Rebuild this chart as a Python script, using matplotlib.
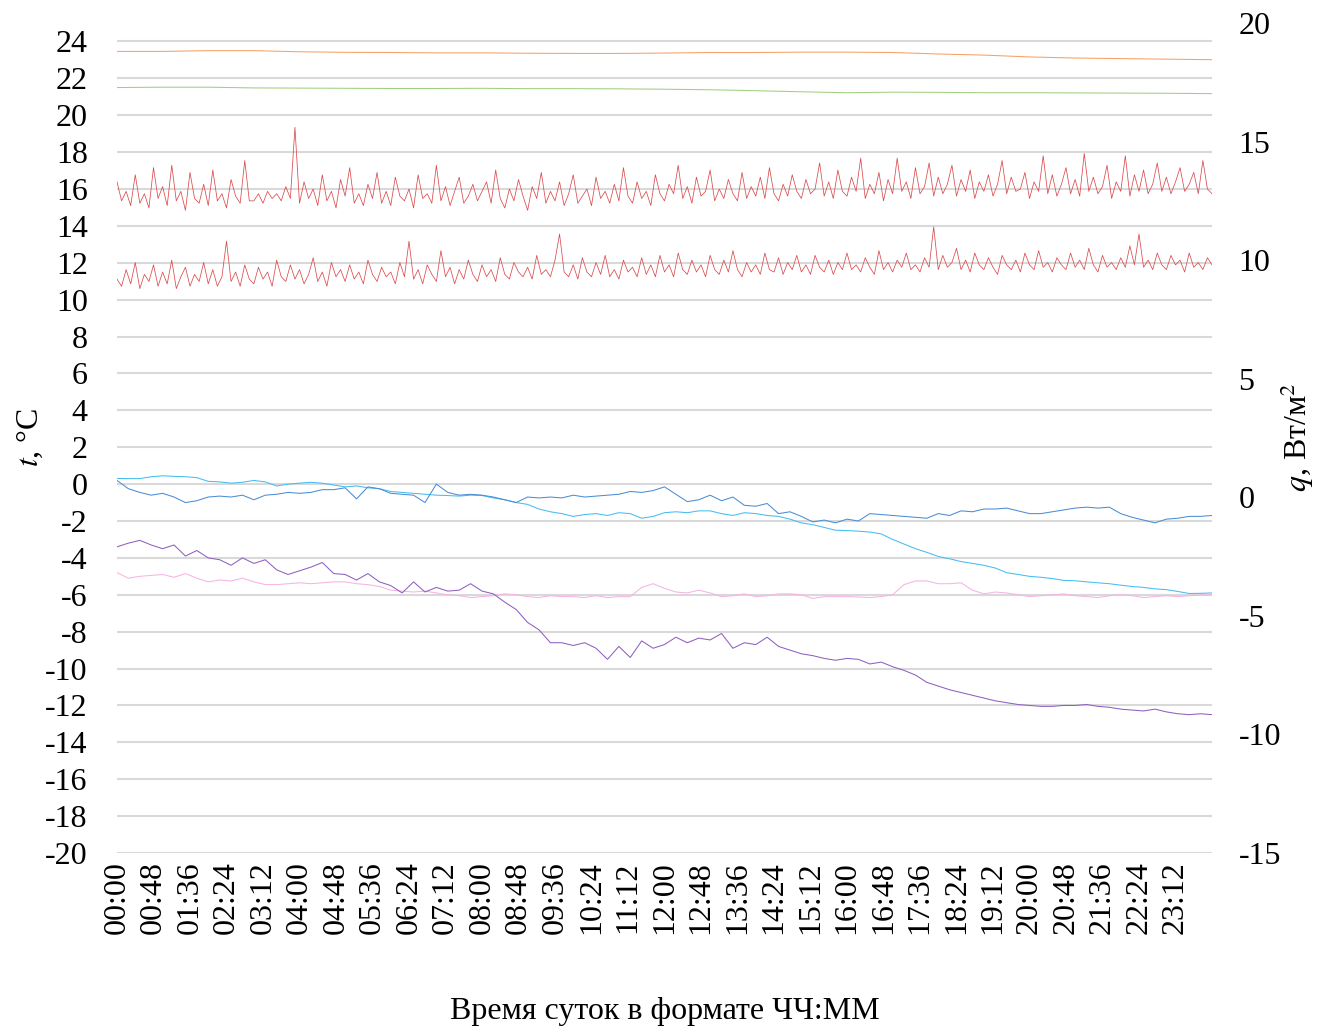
import numpy as np
import matplotlib
matplotlib.use("Agg")
import matplotlib.pyplot as plt

plt.rcParams["font.family"] = ["Liberation Serif", "DejaVu Serif"]
plt.rcParams["mathtext.fontset"] = "stix"
plt.rcParams["axes.unicode_minus"] = False

# ---- air / surface temperatures, hourly (°C) ----
t_orange = [23.46, 23.46, 23.5, 23.5, 23.44, 23.41, 23.4, 23.38, 23.38, 23.36,
            23.35, 23.35, 23.37, 23.4, 23.4, 23.42, 23.42, 23.4, 23.32, 23.26,
            23.16, 23.1, 23.07, 23.04, 23.01]
t_green = [21.5, 21.52, 21.52, 21.48, 21.47, 21.46, 21.45, 21.45, 21.46, 21.44,
           21.44, 21.43, 21.41, 21.38, 21.33, 21.27, 21.22, 21.25, 21.24, 21.22,
           21.22, 21.21, 21.2, 21.19, 21.17]

# ---- temperatures every 15 minutes (°C) ----
t_cyan = [0.31, 0.3, 0.3, 0.4, 0.45, 0.42, 0.4, 0.35, 0.15, 0.12,
          0.05, 0.1, 0.2, 0.12, -0.1, 0.0, 0.05, 0.1, 0.05, -0.05,
          -0.15, -0.1, -0.2, -0.25, -0.4, -0.45, -0.5, -0.55, -0.6, -0.62,
          -0.65, -0.6, -0.62, -0.75, -0.85, -1.0, -1.1, -1.35, -1.5, -1.6,
          -1.75, -1.65, -1.6, -1.7, -1.55, -1.6, -1.85, -1.75, -1.55, -1.5,
          -1.55, -1.45, -1.45, -1.6, -1.7, -1.55, -1.6, -1.7, -1.75, -1.9,
          -2.1, -2.2, -2.35, -2.5, -2.52, -2.55, -2.6, -2.7, -3.0, -3.25,
          -3.5, -3.7, -3.92, -4.05, -4.2, -4.3, -4.4, -4.55, -4.8, -4.9,
          -5.0, -5.05, -5.12, -5.22, -5.24, -5.3, -5.35, -5.4, -5.48, -5.55,
          -5.6, -5.68, -5.72, -5.82, -5.93, -5.92, -5.9]
t_blue = [0.2, -0.25, -0.45, -0.6, -0.5, -0.7, -1.0, -0.9, -0.7, -0.65,
          -0.7, -0.6, -0.85, -0.6, -0.55, -0.45, -0.5, -0.45, -0.3, -0.3,
          -0.2, -0.8, -0.15, -0.25, -0.5, -0.55, -0.6, -1.0, 0.0, -0.45,
          -0.6, -0.55, -0.6, -0.7, -0.85, -1.0, -0.7, -0.75, -0.7, -0.75,
          -0.6, -0.7, -0.65, -0.6, -0.55, -0.4, -0.45, -0.35, -0.15, -0.55,
          -0.95, -0.85, -0.6, -0.9, -0.7, -1.15, -1.2, -1.05, -1.6, -1.5,
          -1.75, -2.05, -1.95, -2.1, -1.9, -2.0, -1.6, -1.65, -1.7, -1.75,
          -1.8, -1.85, -1.6, -1.7, -1.45, -1.5, -1.35, -1.35, -1.3, -1.45,
          -1.6, -1.6, -1.5, -1.4, -1.3, -1.25, -1.3, -1.25, -1.6, -1.8,
          -1.95, -2.1, -1.9, -1.85, -1.75, -1.75, -1.7]
t_purple = [-3.4, -3.2, -3.05, -3.3, -3.5, -3.3, -3.9, -3.6, -4.0, -4.1,
            -4.4, -4.0, -4.3, -4.1, -4.65, -4.9, -4.7, -4.5, -4.25, -4.85,
            -4.9, -5.2, -4.85, -5.3, -5.5, -5.9, -5.3, -5.85, -5.6, -5.8,
            -5.75, -5.4, -5.8, -5.95, -6.4, -6.8, -7.5, -7.9, -8.6, -8.6,
            -8.75, -8.6, -8.9, -9.5, -8.8, -9.4, -8.5, -8.9, -8.7, -8.3,
            -8.6, -8.35, -8.45, -8.1, -8.9, -8.6, -8.7, -8.3, -8.8, -9.0,
            -9.2, -9.3, -9.45, -9.55, -9.45, -9.5, -9.75, -9.65, -9.9, -10.1,
            -10.35, -10.75, -10.95, -11.15, -11.3, -11.45, -11.6, -11.75, -11.85, -11.95,
            -12.0, -12.05, -12.05, -12.0, -12.0, -11.95, -12.05, -12.1, -12.2, -12.25,
            -12.3, -12.2, -12.35, -12.45, -12.5, -12.45, -12.5]
t_pink = [-4.8, -5.1, -5.0, -4.95, -4.9, -5.05, -4.85, -5.1, -5.3, -5.2,
          -5.25, -5.1, -5.3, -5.45, -5.45, -5.4, -5.35, -5.4, -5.35, -5.3,
          -5.3, -5.4, -5.45, -5.55, -5.75, -5.8, -5.85, -5.8, -5.9, -6.0,
          -6.05, -6.15, -6.1, -6.05, -5.95, -6.0, -6.1, -6.15, -6.05, -6.1,
          -6.1, -6.15, -6.05, -6.15, -6.1, -6.1, -5.6, -5.4, -5.65, -5.85,
          -5.9, -5.75, -5.9, -6.1, -6.05, -5.95, -6.1, -6.05, -5.95, -5.95,
          -6.0, -6.2, -6.1, -6.1, -6.1, -6.12, -6.15, -6.1, -6.0, -5.45,
          -5.25, -5.25, -5.4, -5.4, -5.35, -5.75, -5.95, -5.85, -5.9, -6.0,
          -6.1, -6.05, -6.0, -5.95, -6.05, -6.1, -6.15, -6.05, -6.0, -6.05,
          -6.15, -6.1, -6.05, -6.1, -6.05, -6.0, -6.0]

# ---- heat flux every 6 minutes (W/m2) ----
q_upper = [13.3, 12.5, 12.9, 12.3, 13.6, 12.4, 12.8, 12.2, 13.9, 12.6,
           13.1, 12.3, 14.0, 12.5, 12.9, 12.1, 13.7, 12.6, 12.4, 13.2,
           12.3, 13.8, 12.5, 12.8, 12.2, 13.4, 12.7, 12.4, 14.2, 12.5,
           12.5, 12.8, 12.4, 12.9, 12.6, 12.8, 12.5, 13.1, 12.6, 15.6,
           12.4, 13.3, 12.6, 13.0, 12.3, 13.6, 12.5, 12.9, 12.2, 13.4,
           12.7, 13.9, 12.4, 12.8, 12.3, 13.2, 12.6, 13.7, 12.4, 12.9,
           12.3, 13.5, 12.7, 12.5, 13.0, 12.2, 13.6, 12.6, 12.8, 12.4,
           14.0, 12.5, 13.1, 12.3, 12.9, 13.5, 12.4, 12.7, 13.2, 12.5,
           12.9, 13.3, 12.4, 13.8, 12.6, 12.2, 13.0, 12.5, 13.4, 12.7,
           12.1, 13.1, 12.6, 13.7, 12.4, 12.9, 12.5, 13.3, 12.3, 12.8,
           13.6, 12.4, 12.7, 13.0, 12.3, 13.5, 12.6, 12.9, 12.4, 13.2,
           12.5, 13.9, 12.7, 12.4, 13.3, 12.6, 12.9, 12.3, 13.6, 12.8,
           12.5, 13.2, 12.8, 14.0, 12.6, 13.1, 12.4, 13.5, 12.7, 12.9,
           13.8, 12.5, 13.0, 12.6, 13.4, 12.8, 12.5, 13.7, 12.6, 13.1,
           12.7, 13.5, 12.6, 13.9, 12.8, 12.5, 13.2, 12.7, 13.6, 12.9,
           12.6, 13.4, 12.8, 13.0, 14.1, 12.7, 13.3, 12.6, 13.8, 12.9,
           12.7, 13.5, 12.9, 14.3, 12.6, 13.2, 12.8, 13.7, 12.5, 13.4,
           12.8, 14.3, 12.9, 13.3, 12.6, 13.9, 12.8, 13.1, 14.1, 12.7,
           13.5, 12.8, 13.2, 14.0, 12.7, 13.4, 12.9, 13.8, 12.6, 13.3,
           12.9, 13.6, 12.7, 13.2, 14.2, 12.8, 13.5, 12.9, 13.0, 13.7,
           12.6, 13.3, 12.9, 14.4, 12.8, 13.6, 12.7, 13.2, 13.9, 12.8,
           13.4, 12.7, 14.5, 12.9, 13.5, 12.8, 13.1, 14.0, 12.6, 13.3,
           12.9, 14.4, 12.7, 13.6, 12.9, 13.8, 12.8, 13.2, 14.1, 12.9,
           13.5, 12.8, 13.3, 13.9, 12.9, 13.2, 13.7, 12.8, 14.2, 13.0,
           12.8]
q_lower = [9.2, 8.9, 9.6, 9.0, 9.9, 8.8, 9.4, 9.1, 9.8, 8.9,
           9.5, 9.0, 10.0, 8.8, 9.3, 9.7, 8.9, 9.4, 9.1, 9.9,
           9.0, 9.6, 8.9, 9.3, 10.8, 9.1, 9.5, 8.9, 9.8, 9.2,
           9.0, 9.7, 9.2, 9.5, 8.9, 10.0, 9.3, 9.1, 9.8, 9.2,
           9.6, 9.0, 9.4, 10.1, 9.1, 9.5, 8.9, 9.9, 9.3, 9.6,
           9.1, 9.8, 9.2, 9.5, 9.0, 10.0, 9.4, 9.1, 9.7, 9.3,
           9.5, 9.0, 9.9, 9.3, 10.8, 9.2, 9.6, 9.0, 9.8, 9.4,
           9.1, 10.4, 9.3, 9.7, 9.0, 9.6, 9.2, 10.0, 9.4, 9.1,
           9.8, 9.3, 9.6, 9.1, 10.1, 9.4, 9.2, 9.9, 9.5, 9.3,
           9.7, 9.2, 10.2, 9.4, 9.6, 9.3, 10.0, 11.1, 9.5, 9.3,
           9.8, 9.2, 10.1, 9.5, 9.3, 9.9, 9.4, 10.2, 9.3, 9.6,
           9.2, 10.0, 9.5, 9.7, 9.3, 10.1, 9.4, 9.8, 9.3, 10.2,
           9.5, 9.8, 9.3, 10.3, 9.6, 9.4, 10.0, 9.5, 9.8, 9.3,
           10.2, 9.6, 9.4, 10.0, 9.5, 10.4, 9.6, 9.3, 9.9, 9.5,
           9.8, 9.4, 10.3, 9.6, 9.5, 10.1, 9.4, 9.9, 9.6, 10.2,
           9.5, 9.8, 9.4, 10.2, 9.7, 9.5, 10.0, 9.4, 9.9, 9.6,
           10.3, 9.6, 9.8, 9.5, 10.1, 9.7, 9.4, 10.4, 9.6, 9.9,
           9.5, 10.0, 9.7, 10.3, 9.6, 9.8, 9.5, 10.1, 9.7, 11.4,
           9.6, 10.2, 9.7, 9.9, 10.5, 9.6, 10.0, 9.5, 10.3, 9.8,
           9.6, 10.1, 9.7, 9.4, 10.2, 9.8, 9.6, 10.0, 9.5, 10.3,
           9.8, 9.6, 10.4, 9.7, 9.9, 9.5, 10.1, 9.8, 9.6, 10.3,
           9.7, 10.0, 9.6, 10.5, 9.8, 9.5, 10.2, 9.7, 9.9, 9.6,
           10.1, 9.7, 10.6, 9.8, 11.1, 9.7, 10.0, 9.6, 10.3, 9.8,
           9.6, 10.2, 9.8, 10.0, 9.5, 10.3, 9.7, 9.9, 9.6, 10.1,
           9.8]

tick_minutes = list(range(0, 1440, 48))
tick_labels = [f"{m // 60:02d}:{m % 60:02d}" for m in tick_minutes]

W, H = 1327, 1029
fig = plt.figure(figsize=(W / 100, H / 100), dpi=100)
ax = fig.add_axes([117 / W, 1 - 853 / H, (1212 - 117) / W, (853 - 23) / H])
ax2 = ax.twinx()


def day_axis(values):
    return np.linspace(0, 1440, len(values))


lw = 0.75
ax.plot(day_axis(t_orange), t_orange, color="#F7A064", lw=lw, zorder=3)
ax.plot(day_axis(t_green), t_green, color="#9FD07F", lw=lw, zorder=3)
ax.plot(day_axis(t_cyan), t_cyan, color="#45BDF0", lw=lw, zorder=3)
ax.plot(day_axis(t_blue), t_blue, color="#4A8ED4", lw=lw, zorder=3)
ax.plot(day_axis(t_pink), t_pink, color="#F7B3E3", lw=lw, zorder=3)
ax.plot(day_axis(t_purple), t_purple, color="#8F5FC0", lw=lw, zorder=3)
ax2.plot(day_axis(q_upper), q_upper, color="#DA4A4D", lw=0.55, zorder=3)
ax2.plot(day_axis(q_lower), q_lower, color="#DA4A4D", lw=0.55, zorder=3)

ax.set_xlim(0, 1440)
ax.set_ylim(-20, 25)
ax.set_yticks(range(-20, 25, 2))
ax2.set_ylim(-15, 20)
ax2.set_yticks(range(-15, 21, 5))
ax.set_xticks(tick_minutes)
ax.set_xticklabels(tick_labels, rotation=90)

ax.grid(axis="y", color="#D9D9D9", lw=1.5, zorder=0)
ax.set_axisbelow(True)
for a in (ax, ax2):
    for s in a.spines.values():
        s.set_visible(False)

fs = 23
ax.tick_params(axis="y", length=0, pad=21, labelsize=fs)
ax.tick_params(axis="x", length=0, pad=6, labelsize=fs)
ax2.tick_params(axis="y", length=0, pad=19, labelsize=fs)

fig.text(30 / W, 1 - 437 / H, "$t$, °C", rotation=90, ha="center", va="center", fontsize=fs)
fig.text(1297 / W, 1 - 437 / H, "$q$, Вт/м$^2$", rotation=90, ha="center", va="center", fontsize=fs)
fig.text(665 / W, 1 - 1012 / H, "Время суток в формате ЧЧ:ММ", ha="center", va="center", fontsize=fs)

fig.savefig("out.png", dpi=100)
